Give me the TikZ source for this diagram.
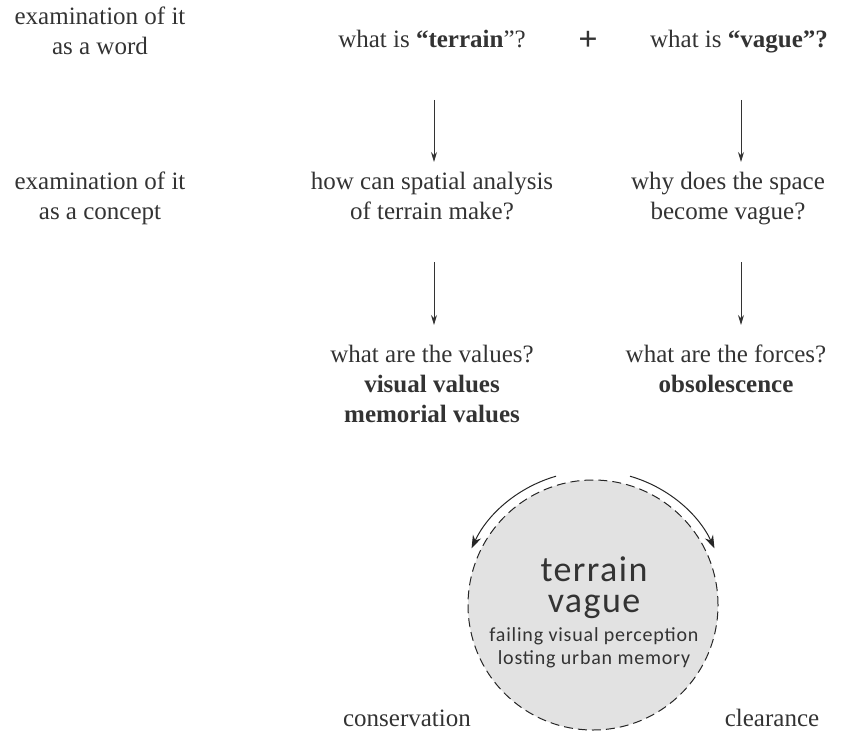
\documentclass[tikz,border=0pt]{standalone}
\usepackage{fontspec}
\setmainfont{Liberation Serif}
\newfontfamily\calib[LetterSpace=4]{Carlito}
\usetikzlibrary{arrows.meta}
\definecolor{ink}{HTML}{333333}
\definecolor{disc}{HTML}{E2E2E2}
\begin{document}
\begin{tikzpicture}[x=1pt,y=-1pt,
  lbl/.style={text=ink,align=center,anchor=base,inner sep=0pt,
    font=\fontsize{25}{30}\selectfont},
  inlbl/.style={text=ink,align=center,anchor=base,inner sep=0pt},
  flow/.style={draw=ink,line width=0.9pt,-{Stealth[length=10pt,width=6pt]}},
  turn/.style={draw=black!85,line width=1pt,-{Stealth[length=13pt,width=9pt]}},
  rim/.style={draw=black!85,line width=1pt,dash pattern=on 9pt off 5pt,fill=disc}]
\useasboundingbox (0,0) rectangle (851,733);

% left column: levels of examination (base anchor = last line)
\node[lbl] (lv1) at (100,55) {examination of it\\as a word};
\node[lbl] (lv2) at (100,219) {examination of it\\as a concept};

% first level: the two words
\node[lbl] (w1) at (432,48) {what is \textbf{“terrain}”?};
\node[lbl,font=\bfseries\fontsize{34}{34}\selectfont] (plus) at (588,51) {+};
\node[lbl] (w2) at (739,48) {what is \textbf{“vague”?}};

% second level: the concepts
\node[lbl] (c1) at (432,219) {how can spatial analysis\\of terrain make?};
\node[lbl] (c2) at (728,219) {why does the space\\become vague?};

% third level: values and forces
\node[lbl] (v1) at (432,422) {what are the values?\\\textbf{visual values}\\\textbf{memorial values}};
\node[lbl] (v2) at (726,392) {what are the forces?\\\textbf{obsolescence}};

% connectors between levels
\coordinate (a1s) at (434,100); \coordinate (a1e) at (434,162);
\coordinate (b1s) at (741,100); \coordinate (b1e) at (741,162);
\coordinate (a2s) at (434,262); \coordinate (a2e) at (434,325);
\coordinate (b2s) at (741,262); \coordinate (b2e) at (741,325);
\draw[flow] (a1s) -- (a1e);
\draw[flow] (b1s) -- (b1e);
\draw[flow] (a2s) -- (a2e);
\draw[flow] (b2s) -- (b2e);

% the terrain vague disc
\node[rim,circle,minimum size=250pt,inner sep=0pt] (tv) at (593,605) {};
\node[inlbl,font=\calib\fontsize{36}{31}\selectfont] (tv1) at (594,612) {terrain\\vague};
\node[inlbl,font=\calib\fontsize{20}{23}\selectfont] (tv3) at (594,664) {failing visual perception\\losting urban memory};

% outcomes
\node[lbl] (o1) at (407,726) {conservation};
\node[lbl] (o2) at (772,726) {clearance};

% turning arrows around the disc
\draw[turn] (tv.center) ++(-106:134) arc[start angle=-106,end angle=-155,radius=134];
\draw[turn] (tv.center) ++(-74:134) arc[start angle=-74,end angle=-25,radius=134];
\end{tikzpicture}
\end{document}
